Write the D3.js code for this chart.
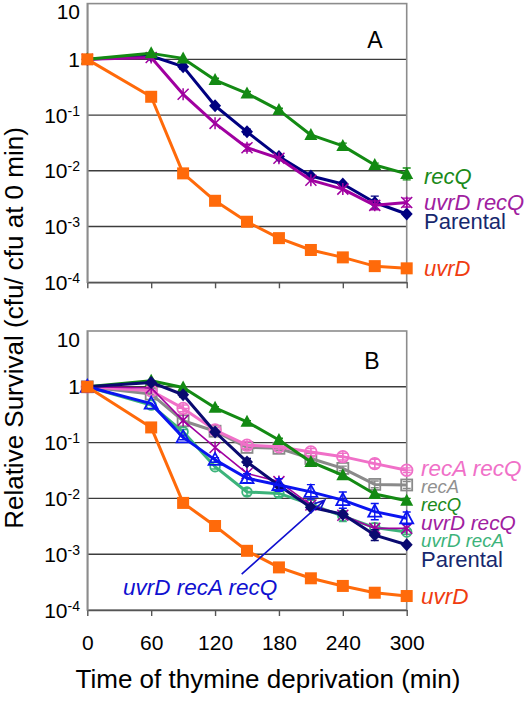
<!DOCTYPE html>
<html><head><meta charset="utf-8">
<script src="https://cdn.jsdelivr.net/npm/d3@7"></script>
<style>
body{margin:0;background:#fff}
svg{display:block;font-family:"Liberation Sans",Arial,Helvetica,sans-serif}
</style>
</head><body>
<svg id="c" width="531" height="701"></svg>
<script>
// ---------- data ----------
const times = [0, 60, 90, 120, 150, 180, 210, 240, 270, 300];
const xTickValues = [0, 60, 120, 180, 240, 300];
const yTickValues = [10, 1, 0.1, 0.01, 0.001, 0.0001];
const yTickExp = [1, 0, -1, -2, -3, -4];

// Panel A
const aParental = [1, 1.15, 0.74, 0.147, 0.05, 0.018, 0.0081, 0.0058, 0.0027, 0.00168];
const aRecQ     = [1, 1.28, 1.04, 0.425, 0.245, 0.123, 0.044, 0.028, 0.0127, 0.0088];
const aUvrDRecQ = [1, 1.08, 0.236, 0.071, 0.026, 0.0168, 0.0068, 0.0047, 0.0024, 0.0027];
const aUvrD     = [1, 0.213, 0.009, 0.0029, 0.00122, 0.00062, 0.00038, 0.00028, 0.000195, 0.000178];
// relative error (fraction) per point
const aParentalErr = [0, 0, 0.1, 0, 0.12, 0, 0, 0, 0.3, 0];
const aRecQErr     = [0, 0, 0, 0.08, 0.08, 0.08, 0, 0.12, 0.08, 0.28];
const aUvrDRecQErr = [0, 0, 0, 0, 0.15, 0, 0, 0, 0.2, 0.2];

// Panel B
const bParental = [1, 1.2, 0.72, 0.155, 0.045, 0.017, 0.0069, 0.0052, 0.0022, 0.00148];
const bRecQ     = [1, 1.28, 0.97, 0.42, 0.236, 0.111, 0.045, 0.026, 0.012, 0.0091];
const bRecARecQ = [1, 0.85, 0.41, 0.168, 0.09, 0.084, 0.068, 0.056, 0.042, 0.032];
const bRecA     = [1, 0.74, 0.246, 0.16, 0.082, 0.079, 0.052, 0.0345, 0.0178, 0.0174];
const bUvrDRecQ = [1, 0.95, 0.25, 0.082, 0.028, 0.02, 0.0076, 0.005, 0.0029, 0.0029];
const bUvrDRecA = [1, 0.47, 0.156, 0.037, 0.013, 0.0123, 0.0078, 0.0048, 0.003, 0.0025];
const bTriple   = [1, 0.5, 0.124, 0.049, 0.023, 0.0174, 0.0131, 0.0093, 0.0058, 0.0044];
const bUvrD     = [1, 0.187, 0.0083, 0.0032, 0.00115, 0.00058, 0.00037, 0.00027, 0.000204, 0.000178];
const bParentalErr = [0, 0, 0.1, 0, 0.15, 0, 0, 0, 0.25, 0];
const bRecQErr     = [0, 0, 0, 0.05, 0.05, 0.08, 0, 0, 0, 0.1];
const bRecARecQErr = [0, 0, 0.15, 0.1, 0.15, 0.1, 0.15, 0.15, 0.2, 0.1];
const bRecAErr     = [0, 0, 0, 0, 0.1, 0.1, 0.1, 0.1, 0.15, 0.15];
const bUvrDRecAErr = [0, 0, 0.1, 0.1, 0.15, 0.15, 0.2, 0.25, 0.2, 0.1];
const bTripleErr   = [0, 0, 0.1, 0.1, 0.2, 0.3, 0.35, 0.4, 0.4, 0.3];

// annotation (data units)
const annoFrom = [145, 0.00044];
const annoTo   = [223, 0.0093];
const annoText = [106, 0.00026];

// ---------- layout ----------
const svg = d3.select("#c");
const X0 = 87.3, X1 = 406.7;
const panels = [
  {letter: "A", top: 3.6, bottom: 282.3, letterPos: [375, 40], xLabels: false,
   series: [
     {v: aParental, err: aParentalErr, color: "#000080", marker: "diamond", lw: 3},
     {v: aUvrDRecQ, err: aUvrDRecQErr, color: "#a000a0", marker: "star", lw: 3},
     {v: aRecQ, err: aRecQErr, color: "#138a13", marker: "tri", lw: 3},
     {v: aUvrD, err: null, color: "#ff6a0a", marker: "square", lw: 3}
   ],
   labels: [
     {t: "recQ", y: 176.5, c: "#1a8a1a", s: 22, it: true},
     {t: "uvrD recQ", y: 202.5, c: "#a020a0", s: 22, it: true},
     {t: "Parental", y: 221.5, c: "#17286e", s: 22, it: false},
     {t: "uvrD", y: 268, c: "#f03c10", s: 22, it: true}
   ], lx: 424},
  {letter: "B", top: 331, bottom: 610, letterPos: [372, 361], xLabels: true,
   series: [
     {v: bRecA, err: bRecAErr, color: "#8a8a8a", marker: "osquare", lw: 3},
     {v: bRecARecQ, err: bRecARecQErr, color: "#f070c8", marker: "ocirclecross", lw: 3},
     {v: bRecQ, err: bRecQErr, color: "#138a13", marker: "tri", lw: 3},
     {v: bUvrDRecA, err: bUvrDRecAErr, color: "#3cb37a", marker: "ocircle", lw: 3},
     {v: bUvrDRecQ, err: null, color: "#a000a0", marker: "star", lw: 1.6},
     {v: bParental, err: bParentalErr, color: "#0a0a70", marker: "diamond", lw: 3},
     {v: bTriple, err: bTripleErr, color: "#0a14f0", marker: "otri", lw: 3},
     {v: bUvrD, err: null, color: "#ff6a0a", marker: "square", lw: 3}
   ],
   labels: [
     {t: "recA recQ", y: 468, c: "#f070c8", s: 22.5, it: true},
     {t: "recA", y: 486, c: "#909090", s: 18.5, it: true},
     {t: "recQ", y: 504, c: "#1a8a1a", s: 18.5, it: true},
     {t: "uvrD recQ", y: 522.5, c: "#a020a0", s: 20.8, it: true},
     {t: "uvrD recA", y: 540, c: "#3cb37a", s: 18.7, it: true},
     {t: "Parental", y: 559, c: "#17286e", s: 22, it: false},
     {t: "uvrD", y: 596, c: "#f03c10", s: 22.5, it: true}
   ], lx: 421}
];

const x = d3.scaleLinear().domain([0, 300]).range([X0, X1]);

function drawMarker(g, m, cx, cy, color) {
  const s = 6;
  if (m === "square") {
    g.append("rect").attr("x", cx - s).attr("y", cy - s).attr("width", 2 * s).attr("height", 2 * s).attr("fill", color);
  } else if (m === "tri") {
    g.append("path").attr("d", `M${cx},${cy - 7}L${cx + 6.5},${cy + 5}L${cx - 6.5},${cy + 5}Z`).attr("fill", color);
  } else if (m === "otri") {
    g.append("path").attr("d", `M${cx},${cy - 7}L${cx + 6.5},${cy + 5}L${cx - 6.5},${cy + 5}Z`).attr("fill", "#fff").attr("fill-opacity", 0).attr("stroke", color).attr("stroke-width", 1.8);
  } else if (m === "diamond") {
    g.append("path").attr("d", `M${cx},${cy - 6.5}L${cx + 6},${cy}L${cx},${cy + 6.5}L${cx - 6},${cy}Z`).attr("fill", color);
  } else if (m === "star") {
    g.append("path").attr("d", `M${cx - 5.5},${cy - 5.5}L${cx + 5.5},${cy + 5.5}M${cx + 5.5},${cy - 5.5}L${cx - 5.5},${cy + 5.5}M${cx},${cy - 6}L${cx},${cy + 6}`).attr("stroke", color).attr("stroke-width", 1.5).attr("fill", "none");
  } else if (m === "osquare") {
    g.append("rect").attr("x", cx - 5.5).attr("y", cy - 5.5).attr("width", 11).attr("height", 11).attr("fill", "none").attr("stroke", color).attr("stroke-width", 1.8);
  } else if (m === "ocirclecross") {
    g.append("circle").attr("cx", cx).attr("cy", cy).attr("r", 5.8).attr("fill", "none").attr("stroke", color).attr("stroke-width", 1.8);
    g.append("path").attr("d", `M${cx - 5.8},${cy}L${cx + 5.8},${cy}M${cx},${cy - 5.8}L${cx},${cy + 5.8}`).attr("stroke", color).attr("stroke-width", 1.3);
  } else if (m === "ocircle") {
    g.append("circle").attr("cx", cx).attr("cy", cy).attr("r", 4.8).attr("fill", "none").attr("stroke", color).attr("stroke-width", 1.8);
  }
}

panels.forEach(p => {
  const y = d3.scaleLog().domain([1e-4, 10]).range([p.bottom, p.top]);
  const g = svg.append("g");

  // gridlines
  g.selectAll("line.grid").data([1, 0.1, 0.01, 0.001]).join("line")
    .attr("x1", X0).attr("x2", X1).attr("y1", d => y(d)).attr("y2", d => y(d))
    .attr("stroke", "#3c3c3c").attr("stroke-width", 1.4);
  // border
  g.append("rect").attr("x", X0).attr("y", y(10)).attr("width", X1 - X0).attr("height", y(1e-4) - y(10))
    .attr("fill", "none").attr("stroke", "#8c8c8c").attr("stroke-width", 1.6);

  // x axis
  const xa = d3.axisBottom(x).tickValues(xTickValues).tickSize(6).tickSizeOuter(0)
    .tickFormat(p.xLabels ? d3.format("d") : "");
  const xg = g.append("g").attr("transform", `translate(0,${p.bottom})`).call(xa);
  xg.select(".domain").attr("stroke", "#555").attr("stroke-width", 1.6);
  xg.selectAll(".tick line").attr("stroke", "#555").attr("stroke-width", 1.4);
  xg.selectAll(".tick text").attr("font-size", 21).attr("fill", "#000").attr("dy", 0).attr("y", 40)
    .attr("font-family", "Liberation Sans, Arial, sans-serif");

  // y axis labels
  const ya = d3.axisLeft(y).tickValues(yTickValues).tickSize(0).tickFormat("");
  const yg = g.append("g").attr("transform", `translate(${X0},0)`).call(ya);
  yg.select(".domain").attr("stroke", "#8c8c8c").attr("stroke-width", 1.6);
  yTickValues.forEach((v, i) => {
    const e = yTickExp[i];
    let yy = y(v) + 7.5;
    if (v === 10) yy += 8;
    const t = g.append("text").attr("x", 80).attr("y", yy).attr("text-anchor", "end")
      .attr("font-size", 21).attr("fill", "#000");
    if (e === 0) t.text("1");
    else if (e === 1) t.text("10");
    else {
      t.append("tspan").text("10");
      t.append("tspan").attr("font-size", 14).attr("dy", -7).text("-" + (-e));
    }
  });

  // series
  p.series.forEach(s => {
    const line = d3.line().x((d, i) => x(times[i])).y(d => y(d));
    g.append("path").datum(s.v).attr("d", line).attr("fill", "none")
      .attr("stroke", s.color).attr("stroke-width", s.lw).attr("stroke-linejoin", "round");
    if (s.err) {
      s.v.forEach((d, i) => {
        const e = s.err[i];
        if (!e) return;
        const cx = x(times[i]);
        const y1 = y(d * (1 + e)), y2 = y(d / (1 + e));
        g.append("path").attr("d", `M${cx},${y1}L${cx},${y2}M${cx - 4},${y1}L${cx + 4},${y1}M${cx - 4},${y2}L${cx + 4},${y2}`)
          .attr("stroke", s.color).attr("stroke-width", 1.4).attr("fill", "none");
      });
    }
    s.v.forEach((d, i) => drawMarker(g, s.marker, x(times[i]), y(d), s.color));
  });

  // labels
  p.labels.forEach(l => {
    g.append("text").attr("x", p.lx).attr("y", l.y).attr("dy", "0.36em")
      .attr("font-size", l.s).attr("font-style", l.it ? "italic" : "normal")
      .attr("fill", l.c).text(l.t);
  });

  // panel letter
  g.append("text").attr("x", p.letterPos[0]).attr("y", p.letterPos[1]).attr("dy", "0.36em")
    .attr("text-anchor", "middle").attr("font-size", 23).attr("fill", "#000").text(p.letter);

  // annotation in panel B
  if (p.letter === "B") {
    const fx = x(annoFrom[0]), fy = y(annoFrom[1]), tx = x(annoTo[0]), ty = y(annoTo[1]);
    const ang = Math.atan2(ty - fy, tx - fx);
    const L = 11, a = 0.4;
    g.append("path")
      .attr("d", `M${fx},${fy}L${tx},${ty}M${tx - L * Math.cos(ang - a)},${ty - L * Math.sin(ang - a)}L${tx},${ty}L${tx - L * Math.cos(ang + a)},${ty - L * Math.sin(ang + a)}`)
      .attr("stroke", "#1010d0").attr("stroke-width", 1.6).attr("fill", "none");
    g.append("text").attr("x", x(annoText[0])).attr("y", y(annoText[1])).attr("dy", "0.36em")
      .attr("text-anchor", "middle").attr("font-size", 22.5).attr("font-style", "italic")
      .attr("fill", "#1010d0").text("uvrD recA recQ");
  }
});

// axis titles
svg.append("text").attr("transform", "translate(23,328) rotate(-90)")
  .attr("text-anchor", "middle").attr("font-size", 26).attr("fill", "#000")
  .text("Relative Survival (cfu/ cfu at 0 min)");
svg.append("text").attr("x", 268).attr("y", 688).attr("text-anchor", "middle")
  .attr("font-size", 26).attr("fill", "#000").text("Time of thymine deprivation (min)");
</script>
</body></html>
